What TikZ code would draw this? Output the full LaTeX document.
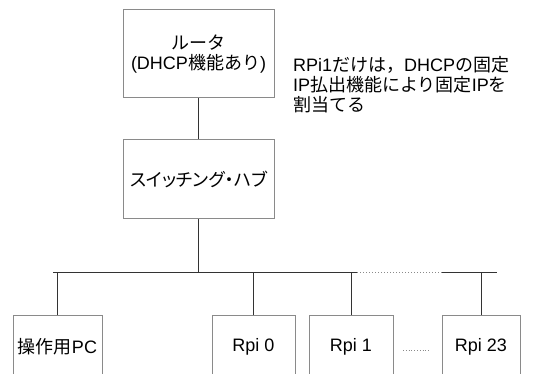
\documentclass[tikz,border=0pt]{standalone}
\usepackage{fontspec}
\setmainfont{Liberation Sans}
\newfontfamily\jp{Noto Sans CJK JP}
\newfontfamily\jpp{Noto Sans CJK JP}[RawFeature=+palt]
\definecolor{boxgray}{HTML}{8A8A8A}
\definecolor{linegray}{HTML}{333333}
\begin{document}
\begin{tikzpicture}[x=1pt,y=-1pt,
  box/.style={draw=boxgray, line width=1pt, inner sep=0pt, align=center,
    font=\fontsize{18}{20}\selectfont},
  conn/.style={draw=linegray, line width=1pt},
  note/.style={inner sep=0pt, align=left, anchor=north west,
    font=\fontsize{18}{20}\selectfont}]
\useasboundingbox (0,0) rectangle (550,374);
\clip (0,0) rectangle (550,374);
\fill[white] (0,0) rectangle (550,374);

\node[box, minimum width=151pt, minimum height=88pt] (router) at (198.5,54)
  {{\jp ルータ}\\({DHCP}{\jp 機能あり})};
\node[box, minimum width=151pt, minimum height=79pt] (switch) at (198.5,179.5)
  {{\jpp スイッチング・ハブ}};

\node[note] (memo) at (293,56)
  {RPi1{\jp だけは，}DHCP{\jp の固定}\\IP{\jp 払出機能により固定}IP{\jp を}\\{\jp 割当てる}};

\node[box, minimum width=89pt, minimum height=62pt] (pc) at (57.5,347) {{\jp 操作用}PC};
\node[box, minimum width=83pt, minimum height=62pt] (r0) at (253.5,347) {Rpi 0};
\node[box, minimum width=84pt, minimum height=62pt] (r1) at (351,347) {Rpi 1};
\node[box, minimum width=78pt, minimum height=62pt] (r23) at (481,347) {Rpi 23};

\coordinate (busL) at (53,273);
\coordinate (busR) at (497,273);
\coordinate (dotA) at (357,273);
\coordinate (dotB) at (442,273);
\coordinate (gapA) at (403,350);
\coordinate (gapB) at (430,350);

\draw[conn] (router.south) -- (switch.north);
\draw[conn] (switch.south) -- (switch.south |- busL);
\draw[conn] (busL) -- (dotA);
\draw[draw=boxgray, line width=1pt, dotted] (dotA) -- (dotB);
\draw[conn] (dotB) -- (busR);
\draw[conn] (pc.north) -- (pc.north |- busL);
\draw[conn] (r0.north) -- (r0.north |- busL);
\draw[conn] (r1.north) -- (r1.north |- busL);
\draw[conn] (r23.north) -- (r23.north |- busL);
\draw[draw=boxgray, line width=0.8pt, dotted] (gapA) -- (gapB);
\end{tikzpicture}
\end{document}
